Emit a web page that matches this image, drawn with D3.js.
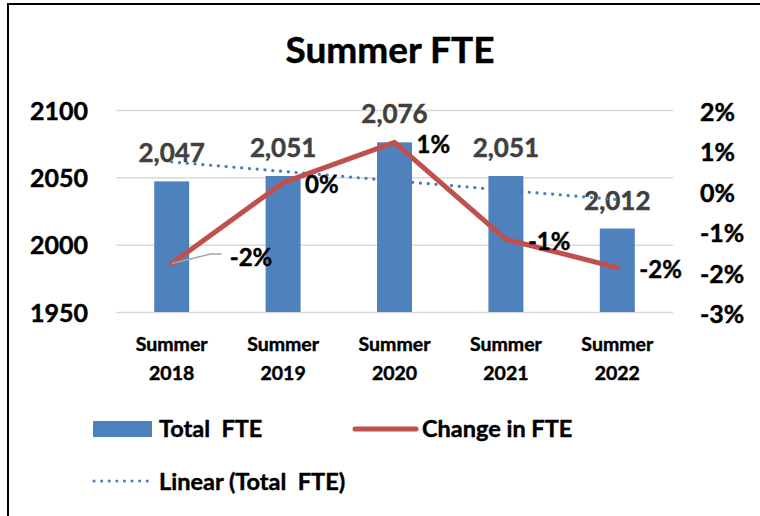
<!DOCTYPE html>
<html>
<head>
<meta charset="utf-8">
<script src="https://cdn.jsdelivr.net/npm/d3@7"></script>
<style>
  html, body { margin: 0; padding: 0; background: #fff; }
  svg { display: block; font-family: Lato, "Open Sans", sans-serif; font-weight: bold; }
  svg text { stroke-width: 0.45px; }
</style>
</head>
<body>
<div id="chart"></div>
<script>
// Summer FTE: bars (left axis) + % change line (right axis) + linear trend

var years = ['2018', '2019', '2020', '2021', '2022'];
var totalFte = [2047, 2051, 2076, 2051, 2012];
var changePct = [-1.8, 0.2, 1.2, -1.2, -1.9];
var trendEnds = [2061.4, 2033.4];          // linear trend at first / last category
var leftTicks = [1950, 2000, 2050, 2100];
var rightTicks = [-3, -2, -1, 0, 1, 2];

var BAR_BLUE = '#4f81bd';
var LINE_RED = '#c0504d';
var TREND_BLUE = '#4a7ebb';

var width = 760, height = 516;
var plot = { left: 116, right: 673, top: 110, bottom: 312 };

var svg = d3.select('#chart').append('svg')
    .attr('width', width)
    .attr('height', height);

// chart frame
svg.append('rect')
    .attr('x', 8).attr('y', 4)
    .attr('width', 800).attr('height', 600)
    .attr('fill', '#fff')
    .attr('stroke', '#000')
    .attr('stroke-width', 2);

svg.append('text')
    .attr('x', 390).attr('y', 63)
    .attr('text-anchor', 'middle')
    .style('font-size', '37px')
    .attr('fill', '#000').attr('stroke', '#000')
    .text('Summer FTE');

// ============================================================================
// SCALES
// ============================================================================

var x = d3.scaleBand()
    .domain(years)
    .range([plot.left, plot.right])
    .paddingInner(0.686)
    .paddingOuter(0.343);

var yL = d3.scaleLinear().domain([1950, 2100]).range([plot.bottom, plot.top]);
var yR = d3.scaleLinear().domain([-3, 2]).range([plot.bottom, plot.top]);

function cx(d) { return x(d) + x.bandwidth() / 2; }

// gridlines
var grid = svg.append('g')
    .attr('transform', 'translate(' + plot.left + ',0)')
    .call(d3.axisLeft(yL).tickValues(leftTicks).tickSize(-(plot.right - plot.left)).tickFormat(''));
grid.select('.domain').remove();
grid.selectAll('line').attr('stroke', '#d9d9d9').attr('stroke-width', 1.5);

// left axis
var axL = svg.append('g')
    .attr('transform', 'translate(' + plot.left + ',0)')
    .call(d3.axisLeft(yL).tickValues(leftTicks).tickSize(0).tickPadding(28).tickFormat(d3.format('d')));
axL.select('.domain').remove();
axL.selectAll('text').style('font-size', '25px').style('font-family', 'Lato')
    .attr('fill', '#000').attr('stroke', '#000').attr('dy', '0.36em');

// right axis
var axR = svg.append('g')
    .attr('transform', 'translate(' + plot.right + ',0)')
    .call(d3.axisRight(yR).tickValues(rightTicks).tickSize(0).tickPadding(27).tickFormat(function(d) { return d + '%'; }));
axR.select('.domain').remove();
axR.selectAll('text').style('font-size', '25px').style('font-family', 'Lato')
    .attr('fill', '#000').attr('stroke', '#000').attr('dy', '0.42em');

// category labels
var cat = svg.append('g').selectAll('text')
    .data(years)
    .join('text')
    .attr('text-anchor', 'middle')
    .style('font-size', '19.5px')
    .attr('fill', '#000').attr('stroke', '#000');
cat.append('tspan').attr('x', cx).attr('y', 351).text('Summer');
cat.append('tspan').attr('x', cx).attr('y', 380).text(function(d) { return d; });

// ============================================================================
// BARS
// ============================================================================

svg.append('g').selectAll('rect')
    .data(totalFte)
    .join('rect')
    .attr('x', function(d, i) { return x(years[i]); })
    .attr('y', function(d) { return yL(d); })
    .attr('width', x.bandwidth())
    .attr('height', function(d) { return plot.bottom - yL(d); })
    .attr('fill', BAR_BLUE);

svg.append('g').selectAll('text')
    .data(totalFte)
    .join('text')
    .attr('x', function(d, i) { return cx(years[i]); })
    .attr('y', function(d) { return yL(d) - 19; })
    .attr('text-anchor', 'middle')
    .style('font-size', '26px')
    .attr('fill', '#404040').attr('stroke', '#404040')
    .text(d3.format(','));

// ============================================================================
// TREND + CHANGE LINE
// ============================================================================

svg.append('line')
    .attr('x1', cx(years[0])).attr('y1', yL(trendEnds[0]))
    .attr('x2', cx(years[years.length - 1])).attr('y2', yL(trendEnds[1]))
    .attr('stroke', TREND_BLUE)
    .attr('stroke-width', 3.2)
    .attr('stroke-linecap', 'round')
    .attr('stroke-dasharray', '0.1 7.7');

var line = d3.line()
    .x(function(d, i) { return cx(years[i]); })
    .y(function(d) { return yR(d); });

svg.append('path')
    .datum(changePct)
    .attr('d', line)
    .attr('fill', 'none')
    .attr('stroke', LINE_RED)
    .attr('stroke-width', 5)
    .attr('stroke-linejoin', 'round')
    .attr('stroke-linecap', 'round');

// first label was dragged away in the original, with a leader line
var firstNudge = { dx: 58, dy: -8 };

function labelX(i) { return cx(years[i]) + (i === 0 ? firstNudge.dx : 22); }
function labelY(i) { return yR(changePct[i]) + 10.5 + (i === 0 ? firstNudge.dy : 0); }

var p0x = cx(years[0]), p0y = yR(changePct[0]);
svg.append('path')
    .attr('d', 'M' + p0x + ',' + p0y + 'L' + (p0x + 39) + ',' + (p0y - 9.5) + 'H' + (p0x + 50))
    .attr('fill', 'none')
    .attr('stroke', '#a6a6a6')
    .attr('stroke-width', 1.5);

svg.append('g').selectAll('text')
    .data(changePct)
    .join('text')
    .attr('x', function(d, i) { return labelX(i); })
    .attr('y', function(d, i) { return labelY(i); })
    .style('font-size', '24px')
    .attr('fill', '#000').attr('stroke', '#000')
    .text(function(d) { return Math.round(d) + '%'; });

// ============================================================================
// LEGEND
// ============================================================================

var lg = svg.append('g');
lg.append('rect')
    .attr('x', 93).attr('y', 421).attr('width', 59).attr('height', 16)
    .attr('fill', BAR_BLUE);
lg.append('text').attr('x', 159).attr('y', 437).style('font-size', '23.5px')
    .attr('fill', '#000').attr('stroke', '#000').text('Total\u00a0 FTE');

lg.append('line')
    .attr('x1', 355).attr('y1', 429).attr('x2', 416).attr('y2', 429)
    .attr('stroke', LINE_RED).attr('stroke-width', 5).attr('stroke-linecap', 'round');
lg.append('text').attr('x', 422).attr('y', 437).style('font-size', '23.5px')
    .attr('fill', '#000').attr('stroke', '#000').text('Change in FTE');

lg.append('line')
    .attr('x1', 94).attr('y1', 481).attr('x2', 152).attr('y2', 481)
    .attr('stroke', TREND_BLUE).attr('stroke-width', 3)
    .attr('stroke-linecap', 'round').attr('stroke-dasharray', '0.1 7.5');
lg.append('text').attr('x', 159).attr('y', 490).style('font-size', '23.5px')
    .attr('fill', '#000').attr('stroke', '#000').text('Linear (Total\u00a0 FTE)');
</script>
</body>
</html>
